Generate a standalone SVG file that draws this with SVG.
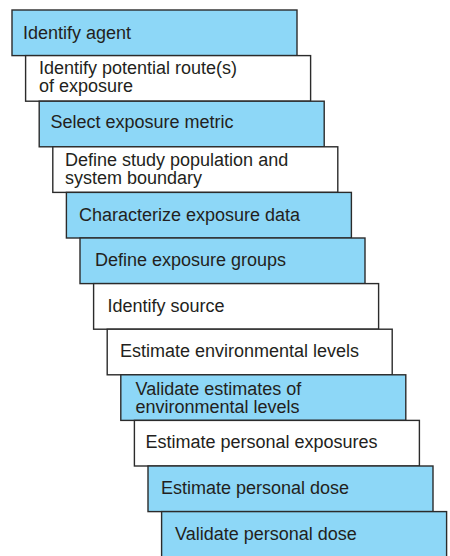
<svg xmlns="http://www.w3.org/2000/svg" width="450" height="556" viewBox="0 0 450 556">
<style>
  .b { fill: #8dd7f7; stroke: #2b2b2b; stroke-width: 1.4; }
  .w { fill: #ffffff; stroke: #2b2b2b; stroke-width: 1.4; }
  text { font-family: "Liberation Sans", Arial, sans-serif; font-size: 18px; fill: #231f20; }
</style>
<rect width="450" height="556" fill="#ffffff"/>
<g id="connectors"></g>
<g id="n1"><rect class="b" x="12" y="10" width="285" height="45.6"/><text x="23" y="39">Identify agent</text></g>
<g id="n2"><rect class="w" x="25.6" y="55.6" width="285" height="45.6"/><text x="39" y="74"><tspan x="39" y="74">Identify potential route(s)</tspan><tspan x="39" y="92">of exposure</tspan></text></g>
<g id="n3"><rect class="b" x="39.2" y="101.2" width="285" height="45.6"/><text x="50.5" y="128">Select exposure metric</text></g>
<g id="n4"><rect class="w" x="52.8" y="146.8" width="285" height="45.6"/><text x="65" y="165.5"><tspan x="65" y="165.5">Define study population and</tspan><tspan x="65" y="184">system boundary</tspan></text></g>
<g id="n5"><rect class="b" x="66.4" y="192.4" width="285" height="45.6"/><text x="79" y="221">Characterize exposure data</text></g>
<g id="n6"><rect class="b" x="80" y="238" width="285" height="45.6"/><text x="95" y="265.5">Define exposure groups</text></g>
<g id="n7"><rect class="w" x="93.6" y="283.6" width="285" height="45.6"/><text x="107.5" y="311.5">Identify source</text></g>
<g id="n8"><rect class="w" x="107.2" y="329.2" width="285" height="45.6"/><text x="120" y="357">Estimate environmental levels</text></g>
<g id="n9"><rect class="b" x="120.8" y="374.8" width="285" height="45.6"/><text x="135.5" y="394.5"><tspan x="135.5" y="394.5">Validate estimates of</tspan><tspan x="135.5" y="413">environmental levels</tspan></text></g>
<g id="n10"><rect class="w" x="134.4" y="420.4" width="285" height="45.6"/><text x="145.5" y="447.5">Estimate personal exposures</text></g>
<g id="n11"><rect class="b" x="148" y="466" width="285" height="45.6"/><text x="161" y="493.5">Estimate personal dose</text></g>
<g id="n12"><rect class="b" x="161.6" y="511.6" width="285" height="45.6"/><text x="175" y="540">Validate personal dose</text></g>
</svg>
